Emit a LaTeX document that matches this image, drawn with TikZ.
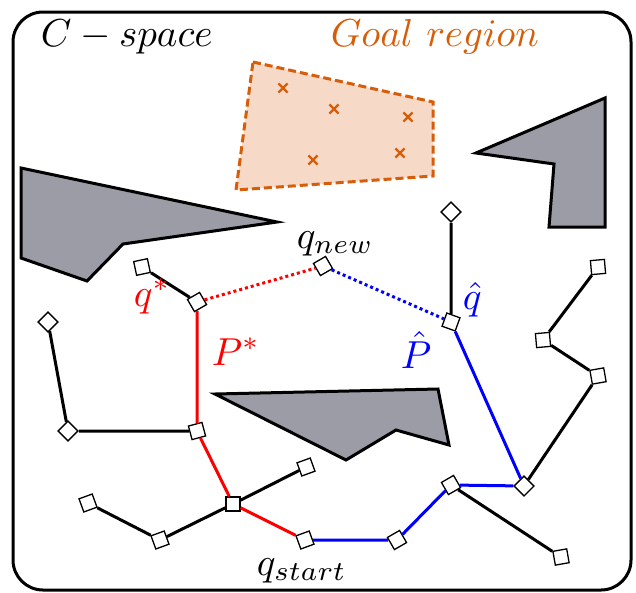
\documentclass[tikz,border=0pt]{standalone}
\usetikzlibrary{shapes.misc}
\definecolor{goalorange}{RGB}{214,94,10}
\definecolor{goalfill}{RGB}{247,217,199}
\definecolor{obstgray}{RGB}{156,156,166}
\tikzset{
	vert/.style = {draw, fill = white, line width = 1.3pt, minimum size = 14pt, inner sep = 0pt},
	edge/.style = {line width = 3pt},
	goalpt/.style = {cross out, draw = goalorange, line width = 2.2pt, minimum size = 7pt, inner sep = 0pt},
	obst/.style = {line width = 3pt, fill = obstgray, line join = miter},
	lbl/.style = {scale = 3.9, transform shape, inner sep = 0pt, anchor = base west}
}
\begin{document}
\begin{tikzpicture} [x = 1pt, y = -1pt]
	\useasboundingbox (0,0) rectangle (636,592);
	\draw [line width = 3pt, rounded corners = 30pt] (13,12) rectangle (631,590);
	% goal region
	\draw [line width = 3pt, goalorange, dash pattern = on 8pt off 4pt, fill = goalfill] (253,62) -- (433,102) -- (433,176) -- (236,190) -- cycle;
	\node [goalpt] (g1) at (283,88) {};
	\node [goalpt] (g2) at (334,109) {};
	\node [goalpt] (g3) at (408,117) {};
	\node [goalpt] (g4) at (313,160) {};
	\node [goalpt] (g5) at (400,153) {};
	% obstacles
	\draw [obst] (21,168) -- (277,222) -- (123,244) -- (87,281) -- (21,258) -- cycle;
	\draw [obst] (476,153) -- (605,98) -- (605,227) -- (549,227) -- (554,164) -- cycle;
	\draw [obst] (215,394) -- (438,389) -- (449,445) -- (396,430) -- (346,460) -- cycle;
	% tree
	\node [vert, rotate = 12] (qa) at (142,267) {};
	\node [vert, rotate = 30] (qs) at (197,302) {};
	\node [vert, rotate = 30] (qn) at (323,266) {};
	\node [vert, rotate = -20] (qh) at (451,322) {};
	\node [vert, rotate = 45] (qt) at (451,212) {};
	\node [vert, rotate = 15] (m1) at (197,431) {};
	\node [vert, rotate = 45] (m2) at (68,431) {};
	\node [vert, rotate = 45] (m3) at (48,322) {};
	\node [vert] (c0) at (233,504) {};
	\node [vert, rotate = 20] (c1) at (306,467) {};
	\node [vert, rotate = 20] (c2) at (88,503) {};
	\node [vert, rotate = 20] (c3) at (160,540) {};
	\node [vert, rotate = 20] (st) at (305,540) {};
	\node [vert, rotate = 30] (b1) at (397,540) {};
	\node [vert, rotate = 30] (b2) at (451,485) {};
	\node [vert, rotate = 45] (b3) at (524,486) {};
	\node [vert, rotate = 10] (r1) at (561,557) {};
	\node [vert, rotate = 10] (r2) at (598,376) {};
	\node [vert, rotate = 5] (r3) at (543,340) {};
	\node [vert, rotate = 5] (r4) at (598,267) {};
	\draw [edge] (qa) -- (qs);
	\draw [edge] (qt) -- (qh);
	\draw [edge] (m1) -- (m2) -- (m3);
	\draw [edge] (c0) -- (c1);
	\draw [edge] (c0) -- (c3) -- (c2);
	\draw [edge] (b2) -- (r1);
	\draw [edge] (b3) -- (r2) -- (r3) -- (r4);
	\draw [edge, red] (qs) -- (m1) -- (c0) -- (st);
	\draw [edge, blue] (st) -- (b1) -- (b2) -- (b3) -- (qh);
	\draw [edge, red, dash pattern = on 3pt off 3pt] (qs) -- (qn);
	\draw [edge, blue, dash pattern = on 3pt off 3pt] (qn) -- (qh);
	% labels
	\node [lbl] (cspace) at (40,46) {$C-space$};
	\node [lbl, goalorange] (goal) at (330,46) {$Goal\ region$};
	\node [lbl] (lnew) at (296,248) {$q_{new}$};
	\node [lbl] (lstart) at (256,575) {$q_{start}$};
	\node [lbl, red] (lqs) at (133,306) {$q^*$};
	\node [lbl, red] (lps) at (211,365) {$P^*$};
	\node [lbl, blue] (lqh) at (462,309) {$\hat{q}$};
	\node [lbl, blue] (lph) at (400,368) {$\hat{P}$};
\end{tikzpicture}
\end{document}
